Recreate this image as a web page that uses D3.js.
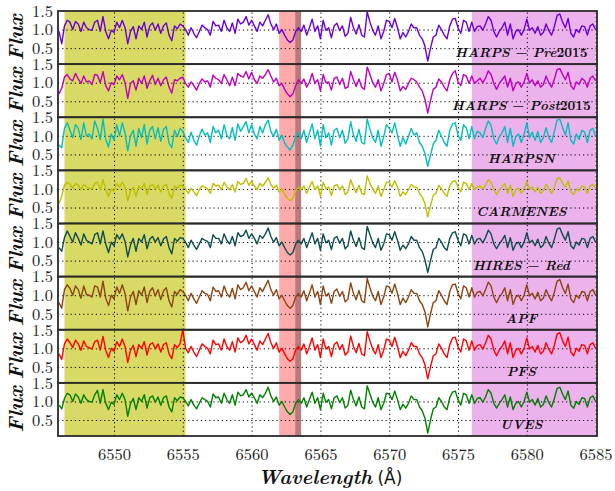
<!DOCTYPE html>
<html><head><meta charset="utf-8">
<script src="https://cdn.jsdelivr.net/npm/d3@7"></script>
<style>body{margin:0;background:#fff}</style>
</head><body>
<svg id="c" width="615" height="491"></svg>
<script>
// ---------------- data ----------------
const instruments = ["HARPS − Pre2015","HARPS − Post2015","HARPSN","CARMENES","HIRES − Red","APF","PFS","UVES"];
const lineColors = ["#6a00d4","#bf00bf","#00bfbf","#bfbf00","#0d4d4d","#8b4513","#ff0000","#008000"];
const waveStart = 6546.0, waveStep = 0.2;   // sampling grid of the spectra
const xTicks = [6550,6555,6560,6565,6570,6575,6580,6585];
const yTicks = [0.5,1.0,1.5];
const bandStart = [6546.4, 6562.0, 6563.17, 6576.0];
const bandEnd   = [6555.2, 6563.6, 6563.6, 6585.0];

const fluxHarpsPre = [
0.95,0.62,1.10,1.25,1.20,1.00,1.22,1.15,0.95,1.20,1.05,1.00,0.98,1.20,
1.25,0.95,1.35,0.95,0.75,0.98,0.92,1.20,1.05,1.25,1.05,0.62,0.95,1.08,
0.75,1.10,1.00,1.20,0.80,1.10,1.18,0.98,1.15,0.90,1.10,1.18,0.85,0.70,
1.10,1.02,1.15,1.10,1.00,0.85,1.05,0.90,0.78,0.95,1.12,1.05,1.00,0.85,
1.22,1.10,1.12,0.95,1.25,1.05,0.95,1.18,0.90,1.28,1.15,1.20,1.35,1.12,
1.25,1.10,0.95,1.20,1.10,1.25,1.40,1.15,1.00,1.15,0.90,1.00,0.85,0.72,
0.65,0.72,0.95,1.05,0.95,1.12,0.85,1.05,1.28,0.95,1.10,0.75,1.25,0.98,
1.05,0.78,1.10,1.17,0.97,1.10,0.82,0.90,1.33,1.05,0.88,1.13,0.85,0.80,
1.48,1.20,0.98,0.85,1.10,0.75,0.95,1.25,1.22,1.05,1.30,1.05,0.75,0.92,
0.80,0.95,1.15,1.05,1.05,0.85,0.75,0.55,0.15,0.50,0.80,0.85,1.12,1.00,
0.85,0.75,1.10,1.28,1.30,1.05,0.90,1.25,1.20,0.95,1.20,0.95,1.08,1.10,
0.98,1.15,1.35,1.25,0.95,0.80,0.95,1.05,1.20,0.85,1.15,0.75,0.95,1.00,
0.85,1.00,1.28,0.98,1.05,0.90,1.08,0.85,0.92,1.15,0.97,0.85,1.08,1.38,
1.42,1.20,1.05,1.30,0.90,0.80,1.00,0.92,1.10,1.08,0.85,1.10,1.15,1.00];

const fluxHarpsPost = [
0.70,0.85,1.15,1.22,1.10,1.05,1.25,1.10,0.98,1.18,1.02,1.05,0.95,1.22,
1.20,1.00,1.30,0.92,0.78,1.00,0.95,1.18,1.08,1.22,1.00,0.58,0.98,1.05,
0.80,1.12,0.98,1.18,0.85,1.05,1.20,0.95,1.12,0.92,1.08,1.15,0.88,0.72,
1.08,1.05,1.12,1.15,0.98,0.88,1.02,0.92,0.80,0.98,1.10,1.02,1.05,0.88,
1.20,1.12,1.08,0.98,1.22,1.08,0.92,1.15,0.92,1.25,1.18,1.15,1.30,1.10,
1.28,1.08,0.98,1.18,1.12,1.22,1.35,1.18,1.02,1.12,0.92,0.98,0.82,0.70,
0.62,0.70,0.92,1.08,0.98,1.10,0.88,1.02,1.25,0.98,1.08,0.78,1.22,1.00,
1.02,0.80,1.12,1.15,0.95,1.12,0.85,0.88,1.30,1.08,0.90,1.10,0.88,0.82,
1.42,1.22,1.00,0.88,1.08,0.78,0.98,1.22,1.25,1.02,1.28,1.08,0.78,0.90,
0.82,0.98,1.12,1.08,1.02,0.88,0.78,0.55,0.18,0.52,0.82,0.88,1.10,1.02,
0.88,0.78,1.08,1.25,1.32,1.02,0.92,1.22,1.18,0.98,1.18,0.98,1.05,1.12,
1.00,1.12,1.32,1.22,0.98,0.82,0.98,1.08,1.18,0.88,1.12,0.78,0.98,1.02,
0.88,1.02,1.25,1.00,1.08,0.92,1.05,0.88,0.95,1.18,1.00,0.88,1.10,1.35,
1.38,1.22,1.08,1.28,0.92,0.82,1.02,0.95,1.12,1.05,0.88,1.12,1.18,1.05];

const fluxHarpsN = [
0.75,0.68,1.20,1.35,1.15,0.95,1.30,1.20,0.90,1.35,1.00,1.05,0.92,1.40,
1.20,0.90,1.45,0.90,0.70,1.05,0.88,1.30,1.00,1.35,1.08,0.60,1.00,1.15,
0.72,1.20,0.95,1.30,0.78,1.15,1.25,0.92,1.22,0.85,1.18,1.25,0.80,0.68,
1.15,0.98,1.20,1.12,0.95,0.82,1.10,0.88,0.75,1.00,1.18,1.02,1.08,0.82,
1.25,1.08,1.15,0.92,1.30,1.02,0.92,1.22,0.88,1.32,1.12,1.25,1.38,1.08,
1.30,1.05,0.92,1.25,1.08,1.30,1.42,1.12,0.98,1.18,0.88,1.02,0.80,0.70,
0.62,0.75,0.98,1.10,0.92,1.15,0.82,1.08,1.32,0.92,1.15,0.72,1.30,0.95,
1.08,0.75,1.15,1.20,0.95,1.15,0.80,0.92,1.38,1.02,0.85,1.18,0.82,0.78,
1.45,1.18,0.95,0.82,1.15,0.72,0.98,1.30,1.20,1.08,1.35,1.02,0.72,0.95,
0.78,0.98,1.20,1.02,1.08,0.82,0.72,0.52,0.18,0.48,0.78,0.88,1.15,0.98,
0.82,0.72,1.15,1.32,1.35,1.02,0.88,1.30,1.22,0.92,1.25,0.92,1.12,1.08,
0.95,1.20,1.40,1.28,0.92,0.78,0.98,1.08,1.25,0.82,1.20,0.72,0.98,1.05,
0.82,1.05,1.35,0.95,1.10,0.88,1.12,0.82,0.95,1.22,0.95,0.82,1.12,1.42,
1.45,1.22,1.02,1.35,0.88,0.78,1.05,0.90,1.15,1.10,0.82,1.15,1.20,0.98];

const fluxCarmenes = [
0.60,0.80,1.10,1.18,1.12,1.02,1.15,1.10,0.98,1.12,1.05,1.02,1.00,1.15,
1.18,0.98,1.25,0.98,0.80,1.00,0.95,1.15,1.05,1.18,1.05,0.68,0.95,1.05,
0.80,1.08,1.00,1.15,0.85,1.08,1.12,1.00,1.10,0.92,1.08,1.12,0.88,0.75,
1.08,1.02,1.10,1.08,1.00,0.88,1.02,0.92,0.82,0.98,1.08,1.05,1.00,0.88,
1.15,1.08,1.10,0.98,1.18,1.05,0.98,1.12,0.92,1.20,1.12,1.15,1.28,1.10,
1.20,1.08,0.98,1.15,1.08,1.18,1.30,1.12,1.02,1.10,0.92,1.00,0.85,0.75,
0.68,0.75,0.95,1.05,0.98,1.08,0.88,1.05,1.20,0.98,1.08,0.80,1.18,1.00,
1.05,0.82,1.08,1.12,0.98,1.08,0.85,0.92,1.25,1.05,0.90,1.10,0.88,0.85,
1.35,1.15,1.00,0.88,1.08,0.80,0.98,1.18,1.18,1.05,1.22,1.05,0.80,0.92,
0.85,0.98,1.12,1.05,1.05,0.88,0.78,0.60,0.25,0.55,0.82,0.88,1.10,1.00,
0.88,0.80,1.08,1.20,1.22,1.05,0.92,1.18,1.15,0.98,1.15,0.98,1.05,1.08,
1.00,1.10,1.25,1.18,0.98,0.85,0.98,1.05,1.15,0.88,1.10,0.80,0.98,1.02,
0.88,1.02,1.20,1.00,1.05,0.92,1.05,0.88,0.95,1.12,1.00,0.88,1.05,1.28,
1.30,1.15,1.05,1.22,0.92,0.85,1.00,0.95,1.08,1.05,0.88,1.08,1.12,1.02];

const fluxHires = [
0.85,0.75,1.12,1.30,1.15,1.00,1.25,1.10,0.92,1.22,1.05,1.00,0.95,1.20,
1.25,0.95,1.30,0.95,0.72,1.00,0.90,1.20,1.08,1.22,1.02,0.60,0.92,1.10,
0.75,1.10,1.00,1.20,0.82,1.08,1.15,1.00,1.12,0.90,1.08,1.15,0.85,0.68,
1.10,1.02,1.12,1.10,1.00,0.85,1.05,0.92,0.80,0.95,1.10,1.05,1.02,0.85,
1.20,1.10,1.10,0.95,1.22,1.05,0.95,1.15,0.90,1.25,1.15,1.18,1.32,1.10,
1.22,1.10,0.95,1.18,1.10,1.22,1.38,1.15,1.00,1.12,0.90,1.00,0.85,0.72,
0.65,0.72,0.95,1.05,0.95,1.10,0.85,1.05,1.25,0.95,1.10,0.78,1.22,0.98,
1.05,0.80,1.10,1.15,0.97,1.10,0.82,0.90,1.30,1.05,0.88,1.12,0.85,0.80,
1.42,1.20,0.98,0.85,1.10,0.78,0.95,1.22,1.20,1.05,1.28,1.05,0.78,0.92,
0.82,0.95,1.15,1.05,1.05,0.85,0.75,0.52,0.18,0.50,0.80,0.85,1.10,1.00,
0.85,0.78,1.10,1.25,1.28,1.05,0.90,1.22,1.18,0.95,1.18,0.95,1.08,1.10,
0.98,1.12,1.32,1.22,0.95,0.82,0.95,1.05,1.18,0.85,1.12,0.78,0.95,1.00,
0.85,1.00,1.25,0.98,1.05,0.90,1.08,0.85,0.92,1.15,0.97,0.85,1.08,1.35,
1.38,1.20,1.05,1.28,0.90,0.82,1.00,0.92,1.10,1.08,0.85,1.10,1.15,1.00];

const fluxApf = [
0.80,0.65,1.15,1.28,1.18,1.00,1.25,1.15,0.92,1.25,1.02,1.00,0.95,1.25,
1.22,0.95,1.38,0.92,0.72,1.00,0.90,1.22,1.05,1.28,1.05,0.58,0.95,1.10,
0.75,1.12,1.00,1.22,0.80,1.10,1.20,0.98,1.15,0.88,1.12,1.20,0.85,0.68,
1.10,1.02,1.15,1.10,1.00,0.85,1.05,0.90,0.78,0.95,1.12,1.05,1.02,0.85,
1.22,1.10,1.12,0.95,1.25,1.05,0.95,1.18,0.90,1.28,1.15,1.20,1.35,1.12,
1.25,1.10,0.95,1.20,1.10,1.25,1.40,1.15,1.00,1.15,0.90,1.00,0.85,0.72,
0.65,0.72,0.95,1.05,0.95,1.12,0.85,1.05,1.28,0.95,1.10,0.75,1.25,0.98,
1.05,0.78,1.10,1.17,0.97,1.10,0.82,0.90,1.33,1.05,0.88,1.13,0.85,0.80,
1.45,1.20,0.98,0.85,1.10,0.75,0.95,1.25,1.22,1.05,1.30,1.05,0.75,0.92,
0.80,0.95,1.15,1.05,1.05,0.85,0.75,0.55,0.15,0.50,0.80,0.85,1.12,1.00,
0.85,0.75,1.10,1.28,1.30,1.05,0.90,1.25,1.20,0.95,1.20,0.95,1.08,1.10,
0.98,1.15,1.35,1.25,0.95,0.80,0.95,1.05,1.20,0.85,1.15,0.75,0.95,1.00,
0.85,1.00,1.28,0.98,1.05,0.90,1.08,0.85,0.92,1.15,0.97,0.85,1.08,1.38,
1.42,1.20,1.05,1.30,0.90,0.80,1.00,0.92,1.10,1.08,0.85,1.10,1.15,1.00];

const fluxPfs = [
0.85,0.70,1.12,1.25,1.15,1.02,1.22,1.12,0.95,1.20,1.05,1.02,0.98,1.18,
1.22,0.95,1.32,0.95,0.75,1.00,0.92,1.18,1.05,1.25,1.05,0.62,0.95,1.08,
0.78,1.10,1.00,1.18,0.82,1.10,1.15,0.98,1.12,0.90,1.10,1.15,0.85,0.72,
1.10,1.02,1.12,1.50,1.00,0.88,1.05,0.90,0.78,0.95,1.12,1.05,1.00,0.85,
1.22,1.10,1.12,0.95,1.25,1.05,0.95,1.18,0.90,1.28,1.15,1.20,1.35,1.12,
1.25,1.10,0.95,1.20,1.10,1.25,1.40,1.15,1.00,1.15,0.90,1.00,0.85,0.72,
0.65,0.72,0.95,1.05,0.95,1.12,0.85,1.05,1.28,0.95,1.10,0.75,1.25,0.98,
1.05,0.78,1.10,1.17,0.97,1.10,0.82,0.90,1.33,1.05,0.88,1.13,0.85,0.80,
1.45,1.20,0.98,0.85,1.10,0.75,0.95,1.25,1.22,1.05,1.30,1.05,0.75,0.92,
0.80,0.95,1.15,1.05,1.05,0.85,0.75,0.55,0.18,0.50,0.80,0.85,1.12,1.00,
0.85,0.75,1.10,1.28,1.30,1.05,0.90,1.25,1.20,0.95,1.20,0.95,1.08,1.10,
0.98,1.15,1.35,1.25,0.95,0.80,0.95,1.05,1.20,0.85,1.15,0.75,0.95,1.00,
0.85,1.00,1.28,0.98,1.05,0.90,1.08,0.85,0.92,1.15,0.97,0.85,1.08,1.38,
1.42,1.20,1.05,1.30,0.90,0.80,1.00,0.92,1.10,1.08,0.85,1.10,1.15,1.00];

const fluxUves = [
0.90,0.80,1.08,1.22,1.18,1.00,1.20,1.12,0.95,1.18,1.05,1.00,0.98,1.18,
1.30,0.95,1.32,0.95,0.78,0.98,0.92,1.18,1.05,1.22,1.05,0.60,0.95,1.08,
0.78,1.10,1.00,1.18,0.82,1.10,1.15,0.98,1.12,0.90,1.10,1.15,0.85,0.72,
1.10,1.02,1.12,1.10,1.00,0.88,1.05,0.90,0.80,0.95,1.10,1.05,1.00,0.85,
1.20,1.10,1.12,0.95,1.22,1.05,0.95,1.18,0.90,1.25,1.15,1.18,1.32,1.12,
1.22,1.10,0.95,1.18,1.10,1.22,1.38,1.15,1.00,1.12,0.90,1.00,0.85,0.72,
0.65,0.72,0.95,1.05,0.95,1.10,0.85,1.05,1.25,0.95,1.10,0.78,1.22,0.98,
1.05,0.80,1.10,1.15,0.97,1.10,0.82,0.90,1.30,1.05,0.88,1.12,0.85,0.80,
1.42,1.20,0.98,0.85,1.10,0.78,0.95,1.22,1.20,1.05,1.28,1.05,0.78,0.92,
0.82,0.95,1.15,1.05,1.05,0.85,0.75,0.55,0.15,0.50,0.80,0.85,1.10,1.00,
0.85,0.78,1.10,1.25,1.28,1.05,0.90,1.22,1.18,0.95,1.18,0.95,1.08,1.10,
0.98,1.12,1.32,1.22,0.95,0.82,0.95,1.05,1.18,0.85,1.12,0.78,0.95,1.00,
0.85,1.00,1.25,0.98,1.05,0.90,1.08,0.85,0.92,1.15,0.97,0.85,1.08,1.35,
1.38,1.20,1.05,1.28,0.90,0.82,1.00,0.92,1.10,1.08,0.85,1.10,1.15,1.00];

const seriesFlux = [fluxHarpsPre,fluxHarpsPost,fluxHarpsN,fluxCarmenes,fluxHires,fluxApf,fluxPfs,fluxUves];

// ---------------- layout ----------------
const svg = d3.select("#c");
const L = 58, R = 597, T = 11, B = 436;
const nP = instruments.length, pH = (B - T) / nP;
const x = d3.scaleLinear().domain([6545.93, 6585.1]).range([L, R]);
const serif = "Latin Modern Roman";
const bandFill = ["rgba(191,191,0,0.6)","rgba(255,0,0,0.33)","rgba(0,0,0,0.28)","rgba(191,0,191,0.3)"];

seriesFlux.forEach((flux, i) => {
  const top = T + i * pH;
  const y = d3.scaleLinear().domain([0.07, 1.5]).range([top + pH, top]);
  const g = svg.append("g");
  bandStart.forEach((b, j) => {
    g.append("rect").attr("x", x(b)).attr("y", top)
      .attr("width", x(bandEnd[j]) - x(b)).attr("height", pH)
      .attr("fill", bandFill[j]);
  });
  g.append("g").attr("transform", `translate(0,${top + pH})`)
    .call(d3.axisBottom(x).tickValues(xTicks).tickSize(-pH).tickFormat(""))
    .call(a => a.select(".domain").remove())
    .call(a => a.selectAll("line").attr("stroke", "#000").attr("stroke-width", 1).attr("stroke-dasharray", "1.2,3"));
  g.append("g").attr("transform", `translate(${L},0)`)
    .call(d3.axisLeft(y).tickValues([0.5, 1.0]).tickSize(-(R - L)).tickFormat(""))
    .call(a => a.select(".domain").remove())
    .call(a => a.selectAll("line").attr("stroke", "#000").attr("stroke-width", 1).attr("stroke-dasharray", "1.2,3"));
  const line = d3.line().x((d, k) => x(waveStart + waveStep * k)).y(d => y(d));
  g.append("path").datum(flux).attr("d", line).attr("fill", "none")
    .attr("stroke", lineColors[i]).attr("stroke-width", 1.4).attr("stroke-linejoin", "round");
  const ya = g.append("g").attr("transform", `translate(${L},0)`)
    .call(d3.axisLeft(y).tickValues(yTicks).tickSize(0).tickPadding(5).tickFormat(d3.format(".1f")));
  ya.select(".domain").remove();
  ya.attr("font-family", null);
  ya.selectAll("text").style("font-family", serif).attr("font-size", 16.5).attr("fill", "#222");
  g.append("rect").attr("x", L).attr("y", top).attr("width", R - L).attr("height", pH)
    .attr("fill", "none").attr("stroke", "#2a2a2a").attr("stroke-width", 1.8);
  const lab = g.append("text").attr("x", x(6579.6)).attr("y", top + 46)
    .attr("text-anchor", "middle").style("font-family", serif).attr("font-weight", "bold")
    .attr("font-size", 13.5).attr("fill", "#111");
  instruments[i].split(/(\d+|−)/).filter(s => s.length).forEach(part => {
    const isItal = !/^\d+$/.test(part) && part !== "−";
    lab.append("tspan").attr("font-style", isItal ? "italic" : "normal")
      .text(part === "−" ? " − " : part);
  });
  svg.append("text").attr("transform", `translate(23,${top + pH / 2}) rotate(-90)`)
    .attr("text-anchor", "middle").style("font-family", serif).attr("font-weight", "bold")
    .attr("font-style", "italic").attr("font-size", 21).attr("fill", "#111")
    .text("Flux");
});

const xa = svg.append("g").attr("transform", `translate(0,${B})`)
  .call(d3.axisBottom(x).tickValues(xTicks).tickSize(0).tickPadding(12).tickFormat(d3.format("d")));
xa.select(".domain").remove();
xa.attr("font-family", null);
xa.selectAll("text").style("font-family", serif).attr("font-size", 16.5).attr("fill", "#222");

const xl = svg.append("text").attr("x", 330).attr("y", 484).attr("text-anchor", "middle")
  .style("font-family", serif).attr("font-size", 20).attr("fill", "#111");
xl.append("tspan").attr("font-weight", "bold").attr("font-style", "italic").text("Wavelength");
xl.append("tspan").style("font-family", "DejaVu Sans").attr("font-size", 17).text(" (Å)");
</script>
</body></html>
